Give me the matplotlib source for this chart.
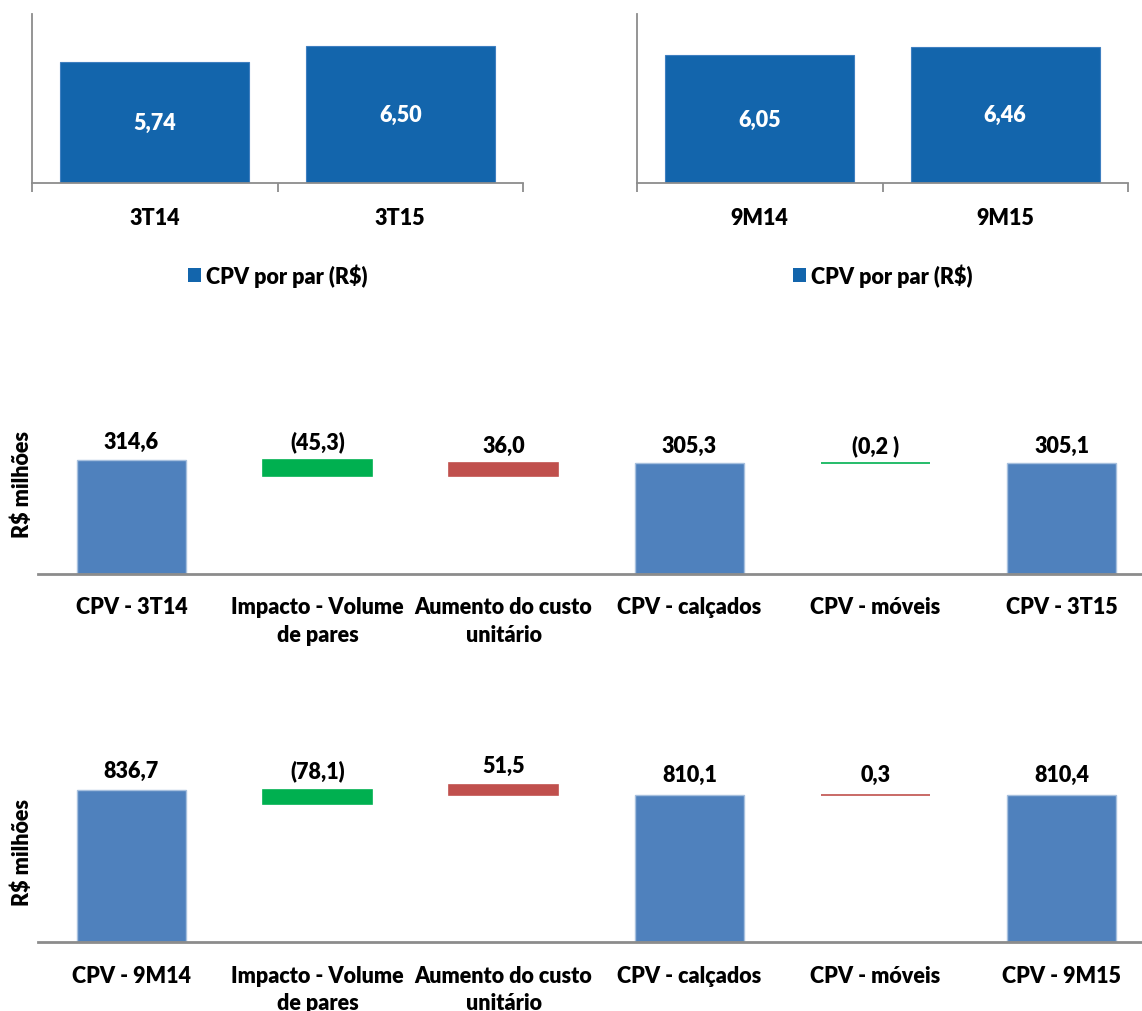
import matplotlib
matplotlib.use('Agg')
import matplotlib.pyplot as plt
from matplotlib.patches import Patch

# ---------------- data ----------------
q_categories = ['3T14', '3T15']
q_cpv_por_par = [5.74, 6.50]
m_categories = ['9M14', '9M15']
m_cpv_por_par = [6.05, 6.46]
legend_label = 'CPV por par (R$)'

wf_q_categories = ['CPV - 3T14', 'Impacto - Volume\nde pares', 'Aumento do custo\nunitário',
                   'CPV - calçados', 'CPV - móveis', 'CPV - 3T15']
wf_q_heights = [314.6, 45.3, 36.0, 305.3, 0.2, 305.1]
wf_q_bases = [0, 269.3, 269.3, 0, 305.1, 0]
wf_q_labels = ['314,6', '(45,3)', '36,0', '305,3', '(0,2 )', '305,1']
wf_q_kinds = ['total', 'decrease', 'increase', 'total', 'decrease', 'total']

wf_m_categories = ['CPV - 9M14', 'Impacto - Volume\nde pares', 'Aumento do custo\nunitário',
                   'CPV - calçados', 'CPV - móveis', 'CPV - 9M15']
wf_m_heights = [836.7, 78.1, 51.5, 810.1, 0.3, 810.4]
wf_m_bases = [0, 758.6, 810.1, 0, 810.1, 0]
wf_m_labels = ['836,7', '(78,1)', '51,5', '810,1', '0,3', '810,4']
wf_m_kinds = ['total', 'decrease', 'increase', 'total', 'increase', 'total']

y_label = 'R$ milhões'

# ---------------- style ----------------
plt.rcParams['font.family'] = ['Lato', 'DejaVu Sans']
WT = 'heavy'
plt.rcParams['font.weight'] = WT
TOP_BLUE = '#1365AC'
WF_COLORS = {'total': '#4F81BD', 'decrease': '#00B050', 'increase': '#C0504D'}
GRAY = '#8C8C8C'
FS = 15.5

W, H = 1142, 1012
fig = plt.figure(figsize=(W / 100, H / 100), dpi=100)


def ax_px(left, top, right, bottom):
    return fig.add_axes([left / W, 1 - bottom / H, (right - left) / W, (bottom - top) / H])


def top_panel(rect, cats, vals):
    ax = ax_px(*rect)
    x = list(range(len(cats)))
    ax.bar(x, vals, width=0.77, color=TOP_BLUE, edgecolor='#3F7FC0', linewidth=0.8)
    for xi, v in zip(x, vals):
        ax.text(xi, v / 2, f'{v:.2f}'.replace('.', ','), ha='center', va='center',
                color='white', fontsize=FS, fontweight=WT)
    ax.set_xlim(-0.5, len(cats) - 0.5)
    ax.set_ylim(0, 8)
    ax.set_xticks([i - 0.5 for i in range(len(cats) + 1)])
    ax.set_xticklabels([])
    ax.set_xticks(x, minor=True)
    ax.set_xticklabels(cats, minor=True, fontsize=FS, fontweight=WT)
    ax.tick_params(axis='x', which='major', length=6.5, color=GRAY, width=1.3)
    ax.tick_params(axis='x', which='minor', length=0, pad=17)
    ax.set_yticks([])
    for s in ['top', 'right']:
        ax.spines[s].set_visible(False)
    for s in ['left', 'bottom']:
        ax.spines[s].set_color(GRAY)
        ax.spines[s].set_linewidth(1.3)
    ax.legend(handles=[Patch(facecolor=TOP_BLUE)], labels=[legend_label], loc='center',
              bbox_to_anchor=(0.5, -0.544), frameon=False, handlelength=0.6,
              handleheight=0.6, handletextpad=0.25,
              prop={'weight': WT, 'size': FS})
    return ax


top_panel((32, 15, 523, 184), q_categories, q_cpv_por_par)
top_panel((637, 15, 1128, 184), m_categories, m_cpv_por_par)


def waterfall(rect, ymax, cats, heights, bases, labels, kinds, offset, ylab_y):
    ax = ax_px(*rect)
    x = list(range(len(cats)))
    for xi, h, b, lab, k in zip(x, heights, bases, labels, kinds):
        c = WF_COLORS[k]
        if k == 'total':
            ax.bar(xi, h, bottom=b, width=0.586, color=c, edgecolor='#A7C0DE', linewidth=1)
        else:
            ax.bar(xi, h, bottom=b, width=0.586, color=c, edgecolor=c, linewidth=1.2)
        ax.annotate(lab, (xi, b + h), xytext=(0, offset), textcoords='offset pixels',
                    ha='center', va='center', fontsize=FS, fontweight=WT, color='black')
    ax.set_xlim(-0.5, len(cats) - 0.5)
    ax.set_ylim(0, ymax)
    ax.set_xticks(x)
    ax.set_xticklabels(cats, fontsize=FS, fontweight=WT, linespacing=1.4)
    ax.tick_params(axis='x', length=0, pad=16)
    ax.set_yticks([])
    for s in ['top', 'right', 'left']:
        ax.spines[s].set_visible(False)
    ax.spines['bottom'].set_color(GRAY)
    ax.spines['bottom'].set_linewidth(2)
    fig.text(22 / W, 1 - ylab_y / H, y_label, rotation=90, ha='center', va='center',
             fontsize=FS, fontweight=WT)
    return ax


waterfall((38.5, 400, 1154.5, 575), 175 / 0.3633, wf_q_categories, wf_q_heights, wf_q_bases,
          wf_q_labels, wf_q_kinds, 18, 484)
waterfall((38.5, 770, 1154.5, 943.3), 173.3 / 0.182, wf_m_categories, wf_m_heights, wf_m_bases,
          wf_m_labels, wf_m_kinds, 20, 853)

fig.savefig('out.png', dpi=100)
